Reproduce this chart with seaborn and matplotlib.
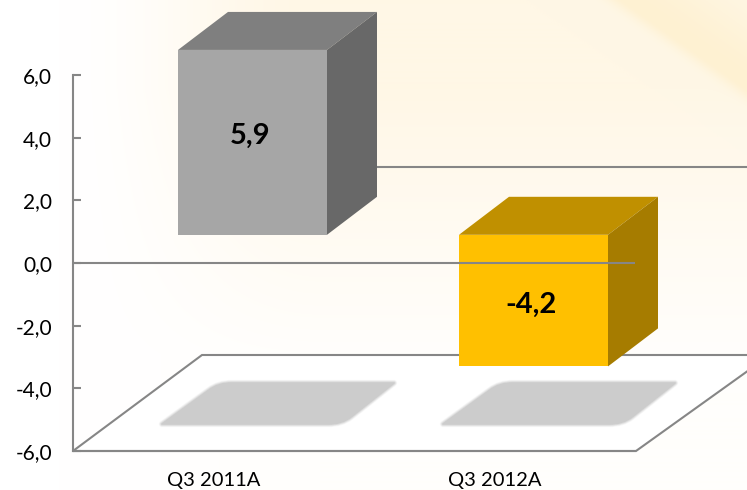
import numpy as np
import pandas as pd
import matplotlib
matplotlib.use("Agg")
import matplotlib.pyplot as plt
import seaborn as sns
from matplotlib.patches import Polygon, PathPatch
from matplotlib.path import Path

categories = ["Q3 2011A", "Q3 2012A"]
values = [5.9, -4.2]
value_labels = ["5,9", "-4,2"]
y_ticks = [-6, -4, -2, 0, 2, 4, 6]
y_tick_labels = ["-6,0", "-4,0", "-2,0", "0,0", "2,0", "4,0", "6,0"]

front_colors = ["#a6a6a6", "#ffc000"]
top_colors = ["#7f7f7f", "#c09000"]
side_colors = ["#686868", "#a67c00"]
line_color = "#868686"
bar_base = 0.90

W, H = 747, 490
sns.set_theme(style="white")
plt.rcParams["font.family"] = ["Lato", "DejaVu Sans"]
fig = plt.figure(figsize=(W / 100, H / 100), dpi=100)

# Background and floor, in pixel coordinates
bg = fig.add_axes([0, 0, 1, 1], zorder=0)
bg.set_xlim(0, W)
bg.set_ylim(H, 0)
bg.axis("off")
X, Y = np.meshgrid(np.arange(W) + .5, np.arange(H) + .5)
sx = np.clip((X - 60) / 260, 0, 1)
sx = sx * sx * (3 - 2 * sx)
t = sx * np.clip(1.3 - Y / 300, 0.12, 1)
dist = ((X - 623) * 88 - Y * 124) / np.hypot(88, 124)
wedge = np.where(dist < 0, np.exp(-np.clip(dist, -200, 0) ** 2 / (2 * 7.0 ** 2)),
                 np.exp(-np.clip(dist, 0, 200) ** 2 / (2 * 40.0 ** 2)))
base = np.array([255, 255, 255.]) / 255
warm = np.array([255, 247, 230.]) / 255
hot = np.array([254, 241, 210.]) / 255
img = base[None, None] * (1 - t[..., None]) + warm[None, None] * t[..., None]
wk = wedge[..., None]
img = img * (1 - wk) + hot[None, None] * wk
bg.imshow(np.clip(img, 0, 1), extent=(0, W, H, 0), aspect="auto", zorder=0)

bg.add_patch(Polygon([(73, 451), (202, 355), (770, 355), (636, 451)], closed=True,
                     facecolor="#ffffff", edgecolor=line_color, lw=1.5, zorder=1))
codes = [Path.MOVETO, Path.LINETO, Path.CURVE3, Path.CURVE3, Path.LINETO, Path.LINETO,
         Path.CURVE3, Path.CURVE3, Path.CLOSEPOLY]
for dx in (0, 281):
    verts = [(162 + dx, 424), (328 + dx, 424), (342 + dx, 424), (351 + dx, 417),
             (394 + dx, 383), (232 + dx, 383), (218 + dx, 383), (209 + dx, 390), (162 + dx, 424)]
    for lw, a in zip((4.5, 3.5, 2.5, 1.5, 0.5), (.15, .25, .4, .7, 1)):
        bg.add_patch(PathPatch(Path(verts, codes), facecolor="#cccccc", edgecolor="#cccccc",
                               lw=lw, alpha=a, joinstyle="round", zorder=2))
bg.set_xlim(0, W)
bg.set_ylim(H, 0)
bg.plot([340, W], [167, 167], color=line_color, lw=1.5, zorder=3)

# Chart axes
ax = fig.add_axes([73 / W, 1 - 451 / H, 562 / W, 376 / H], zorder=1)
ax.patch.set_alpha(0)
df = pd.DataFrame({"cat": categories, "val": values})
sns.barplot(data=df, x="cat", y="val", hue="cat", palette=front_colors, width=149 / 281,
            bottom=bar_base, dodge=False, legend=False, saturation=1, linewidth=0, ax=ax)
ax.set_xlim(-0.5, 1.5)
ax.set_ylim(-6, 6)
ax.set_xlabel("")
ax.set_ylabel("")
ax.set_yticks(y_ticks)
ax.set_yticklabels(y_tick_labels)
ax.tick_params(axis="y", direction="in", length=6, width=1.5, color=line_color,
               labelsize=15, labelcolor="black", pad=15, left=True)
ax.tick_params(axis="x", length=0, labelsize=14.5, labelcolor="black", pad=15)
for s in ("top", "right"):
    ax.spines[s].set_visible(False)
for s in ("left", "bottom"):
    ax.spines[s].set_color(line_color)
    ax.spines[s].set_linewidth(1.5)

shift = 39 / 281
depth_x, depth_y = 50 / 281, 38 / (376 / 12)
for i, (bar, v) in enumerate(zip(ax.patches, values)):
    bar.set_x(bar.get_x() + shift)
    bar.set_clip_on(False)
    bar.set_zorder(4)
    x0, x1 = bar.get_x(), bar.get_x() + bar.get_width()
    lo, hi = min(bar_base, bar_base + v), max(bar_base, bar_base + v)
    ax.add_patch(Polygon([(x0, hi), (x1, hi), (x1 + depth_x, hi + depth_y), (x0 + depth_x, hi + depth_y)],
                         closed=True, facecolor=top_colors[i], edgecolor="none", clip_on=False, zorder=3))
    ax.add_patch(Polygon([(x1, lo), (x1, hi), (x1 + depth_x, hi + depth_y), (x1 + depth_x, lo + depth_y)],
                         closed=True, facecolor=side_colors[i], edgecolor="none", clip_on=False, zorder=3))
    ax.text((x0 + x1) / 2 - 0.008, (lo + hi) / 2 + (0.2 if v > 0 else -0.13), value_labels[i],
            ha="center", va="center", fontsize=21, fontweight="bold", color="black", zorder=6)
ax.axhline(0, color=line_color, lw=1.5, zorder=5)

fig.savefig("out.png", dpi=100)
